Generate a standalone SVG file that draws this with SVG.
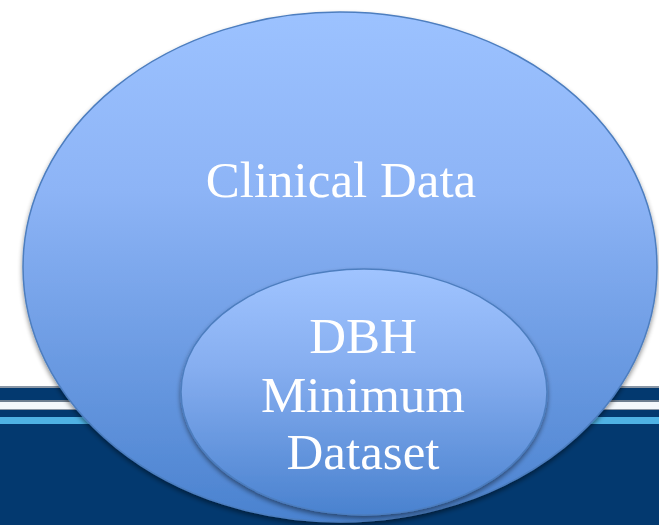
<svg xmlns="http://www.w3.org/2000/svg" width="659" height="525" viewBox="0 0 659 525">
  <defs>
    <linearGradient id="gBig" x1="0" y1="0" x2="0" y2="1">
      <stop offset="0" stop-color="#9CC2FF"/>
      <stop offset="0.35" stop-color="#8DB4F6"/>
      <stop offset="1" stop-color="#4A82CF"/>
    </linearGradient>
    <linearGradient id="gSmall" x1="0" y1="0" x2="0" y2="1">
      <stop offset="0" stop-color="#A0C4FF"/>
      <stop offset="0.4" stop-color="#86AEF0"/>
      <stop offset="1" stop-color="#4A82CF"/>
    </linearGradient>
    <linearGradient id="gShade" x1="0" y1="0" x2="0" y2="1">
      <stop offset="0" stop-color="#6F7F90"/>
      <stop offset="1" stop-color="#FFFFFF" stop-opacity="0"/>
    </linearGradient>
    <filter id="shadow" x="-10%" y="-10%" width="120%" height="125%">
      <feGaussianBlur in="SourceAlpha" stdDeviation="2.5"/>
      <feOffset dx="0" dy="3" result="b"/>
      <feComponentTransfer><feFuncA type="linear" slope="0.45"/></feComponentTransfer>
      <feMerge><feMergeNode/><feMergeNode in="SourceGraphic"/></feMerge>
    </filter>
    <style>
      .lbl { font-family: "Liberation Serif", "Times New Roman", serif; font-size: 51px; fill: #FFFFFF; text-anchor: middle; }
      .ell { stroke: #4D7EBF; stroke-width: 1.5; }
    </style>
  </defs>
  <rect x="0" y="0" width="659" height="525" fill="#FFFFFF"/>
  <g id="background-bands">
    <rect x="0" y="386" width="659" height="2" fill="#8A97A6"/>
    <rect x="0" y="388" width="659" height="12" fill="#03396F"/>
    <rect x="0" y="400" width="659" height="2" fill="#6E7E90"/>
    <rect x="0" y="402" width="659" height="7" fill="#F4F8FC"/>
    <rect x="0" y="409" width="659" height="1" fill="#8A97A6"/>
    <rect x="0" y="410" width="659" height="7" fill="#03396F"/>
    <rect x="0" y="417" width="659" height="7" fill="#4FB2E4"/>
    <rect x="0" y="424" width="659" height="101" fill="#03396F"/>
  </g>
  <g id="clinical-data">
    <ellipse class="ell" cx="340" cy="267" rx="317" ry="255" fill="url(#gBig)" filter="url(#shadow)"/>
    <text class="lbl" x="341" y="197">Clinical Data</text>
  </g>
  <g id="dbh-minimum-dataset">
    <ellipse class="ell" cx="364" cy="392" rx="183" ry="123" fill="url(#gSmall)" filter="url(#shadow)"/>
    <text class="lbl" x="363" y="353">DBH</text>
    <text class="lbl" x="363" y="412">Minimum</text>
    <text class="lbl" x="363" y="469">Dataset</text>
  </g>
  <g id="connectors"/>
</svg>
